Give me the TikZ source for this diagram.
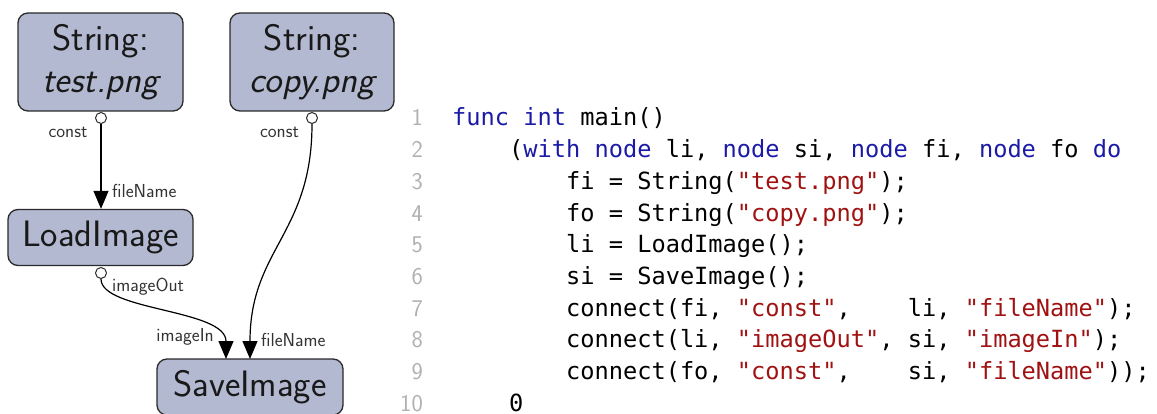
\documentclass[tikz,border=0pt]{standalone}
\usepackage{fontspec}
\usetikzlibrary{arrows.meta}
\newfontfamily\codefont{DejaVu Sans Mono}
\definecolor{nodefill}{HTML}{B3B9D1}
\definecolor{nodeline}{HTML}{2A2A2A}
\definecolor{kw}{HTML}{1A1AA6}
\definecolor{str}{HTML}{A01212}
\definecolor{lnum}{HTML}{B0B0B0}
\definecolor{lbl}{HTML}{333333}
\newcommand\kwd[1]{\textcolor{kw}{#1}}
\newcommand\strg[1]{\textcolor{str}{#1}}
\newcommand\sk{\hphantom{0}}
\tikzset{
  opbox/.style={draw=nodeline, fill=nodefill, line width=1.3pt, rounded corners=10pt,
    inner sep=0pt, align=center, text=black!90,
    font=\sffamily\fontsize{36.8}{42}\selectfont},
  port/.style={circle, draw=nodeline, fill=white, line width=1pt, minimum size=11pt, inner sep=0pt},
  conn/.style={line width=1.2pt, -{Triangle[length=18pt,width=15pt]}},
  plabel/.style={text=lbl, inner sep=0pt, font=\sffamily\fontsize{18.8}{20}\selectfont},
  codeline/.style={anchor=base west, inner sep=0pt, font=\codefont\fontsize{23.65}{28}\selectfont},
  lineno/.style={anchor=base east, inner sep=0pt, text=lnum, font=\sffamily\fontsize{24}{28}\selectfont}
}
\begin{document}
\begin{tikzpicture}[x=1pt,y=-1pt]
\useasboundingbox (0,0) rectangle (1157,414);

% operator nodes
\node[opbox, minimum width=165pt, minimum height=98pt] (fi) at (100.5,62) {String:\\\itshape test.png};
\node[opbox, minimum width=164pt, minimum height=98pt] (fo) at (312,62) {String:\\\itshape copy.png};
\node[opbox, minimum width=185pt, minimum height=56pt] (li) at (100.5,237.5) {LoadImage};
\node[opbox, minimum width=186pt, minimum height=56pt] (si) at (250,387) {SaveImage};

% output ports
\node[port] (fip) at (101,118) {};
\node[port] (fop) at (312,118) {};
\node[port] (lip) at (101,273) {};

% input ports on SaveImage
\coordinate (siIn) at (226,359);
\coordinate (siFile) at (250,359);

% connections
\draw[conn] (fip.south) -- (li.north -| fip);
\draw[conn] (lip.south) .. controls +(0,32) and +(0,-50) .. (siIn);
\draw[conn] (fop.south) .. controls +(0,110) and +(0,-110) .. (siFile);

% port labels
\node[plabel] (l1) at (68,132) {const};
\node[plabel] (l2) at (279.5,132) {const};
\node[plabel, anchor=west] (l3) at (112,191) {fileName};
\node[plabel, anchor=west] (l4) at (112,287) {imageOut};
\node[plabel, anchor=east] (l5) at (214,337) {imageIn};
\node[plabel, anchor=west] (l6) at (261,340) {fileName};

% source listing
\foreach \n in {1,...,10} {
  \node[lineno] (n\n) at (423,{126+(\n-1)*31.7}) {\n};
}
\node[codeline] (c1) at (452,126) {\kwd{func} \kwd{int} main()};
\node[codeline] (c2) at (452,157.7) {\sk\sk\sk\sk(\kwd{with} \kwd{node} li, \kwd{node} si, \kwd{node} fi, \kwd{node} fo \kwd{do}};
\node[codeline] (c3) at (452,189.4) {\sk\sk\sk\sk\sk\sk\sk\sk fi = String(\strg{"test.png"});};
\node[codeline] (c4) at (452,221.1) {\sk\sk\sk\sk\sk\sk\sk\sk fo = String(\strg{"copy.png"});};
\node[codeline] (c5) at (452,252.8) {\sk\sk\sk\sk\sk\sk\sk\sk li = LoadImage();};
\node[codeline] (c6) at (452,284.5) {\sk\sk\sk\sk\sk\sk\sk\sk si = SaveImage();};
\node[codeline] (c7) at (452,316.2) {\sk\sk\sk\sk\sk\sk\sk\sk connect(fi, \strg{"const"},\sk\sk\sk\sk li, \strg{"fileName"});};
\node[codeline] (c8) at (452,347.9) {\sk\sk\sk\sk\sk\sk\sk\sk connect(li, \strg{"imageOut"}, si, \strg{"imageIn"});};
\node[codeline] (c9) at (452,379.6) {\sk\sk\sk\sk\sk\sk\sk\sk connect(fo, \strg{"const"},\sk\sk\sk\sk si, \strg{"fileName"}));};
\node[codeline] (c10) at (452,411.3) {\sk\sk\sk\sk 0};
\end{tikzpicture}
\end{document}
